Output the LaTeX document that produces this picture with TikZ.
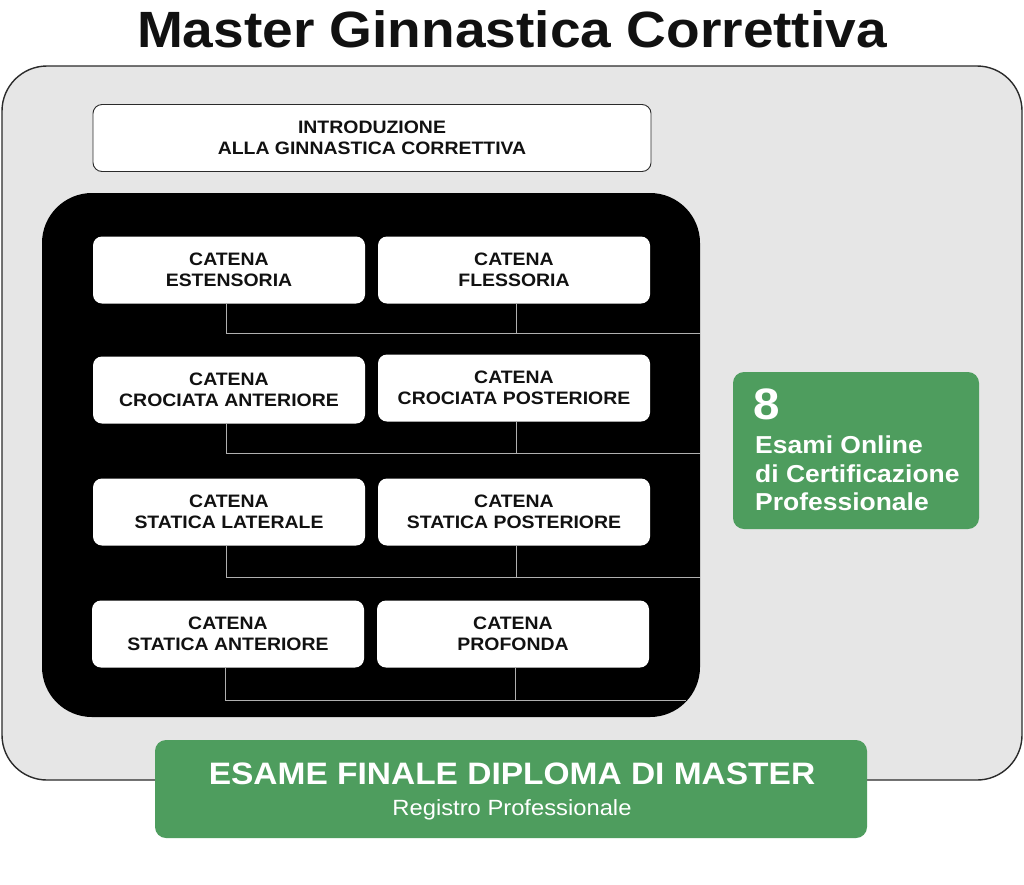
\documentclass[tikz,border=0pt]{standalone}
\usepackage{fontspec}
\setmainfont{Liberation Sans}[FakeStretch=1.08]
\usetikzlibrary{positioning,calc}
\definecolor{panel}{HTML}{E6E6E6}
\definecolor{edge}{HTML}{2B2B2B}
\definecolor{ink}{HTML}{111111}
\definecolor{leaf}{HTML}{4E9D5E}
\definecolor{wire}{HTML}{B0B0B0}
\tikzset{
  box/.style={draw=edge, fill=white, rounded corners=9pt, align=center,
              font=\fontsize{18}{21}\selectfont\bfseries, text=ink, inner sep=0pt},
  catbox/.style={box, draw=none, minimum width=272pt, minimum height=67pt},
  greenbox/.style={fill=leaf, rounded corners=11pt, text=white, inner sep=0pt},
  conn/.style={draw=wire, line width=0.9pt}
}
\begin{document}
\begin{tikzpicture}[x=1pt,y=-1pt]
  \useasboundingbox (0,0) rectangle (1024,884);
  \fill[white] (0,0) rectangle (1024,884);

  \node[font=\fontsize{51}{60}\selectfont\bfseries, text=ink] (title) at (512,29) {Master Ginnastica Correttiva};

  \draw[fill=panel, draw=edge, line width=1.4pt, rounded corners=45pt] (2,66) rectangle (1022,780);

  \node[box, line width=0.9pt, minimum width=558pt, minimum height=67pt] (intro) at (372,138)
     {INTRODUZIONE\\ALLA GINNASTICA CORRETTIVA};

  \fill[black, rounded corners=50pt] (42,193) rectangle (700,717);

  \node[catbox] (e1) at (229,270) {CATENA\\ESTENSORIA};
  \node[catbox] (f1) at (514,270) {CATENA\\FLESSORIA};
  \node[catbox] (e2) at (229,390) {CATENA\\CROCIATA ANTERIORE};
  \node[catbox] (f2) at (514,388) {CATENA\\CROCIATA POSTERIORE};
  \node[catbox] (e3) at (229,512) {CATENA\\STATICA LATERALE};
  \node[catbox] (f3) at (514,512) {CATENA\\STATICA POSTERIORE};
  \node[catbox] (e4) at (228,634) {CATENA\\STATICA ANTERIORE};
  \node[catbox] (f4) at (513,634) {CATENA\\PROFONDA};

  \coordinate (r1) at (700,333);
  \coordinate (r2) at (700,453);
  \coordinate (r3) at (700,577);
  \coordinate (r4) at (686,700);
  \foreach \i in {1,...,4}{
    \draw[conn] ([xshift=-3pt]e\i.south) |- (r\i);
    \draw[conn] ([xshift=2pt]f\i.south) -- ([xshift=2pt]f\i.south |- r\i);
  }

  \node[greenbox, minimum width=246pt, minimum height=157pt] (exams) at (856,450.5) {};
  \node[anchor=north west, text=white, font=\fontsize{44}{44}\selectfont\bfseries, inner sep=0pt]
     (eight) at (753,389) {8};
  \node[anchor=north west, text=white, align=left, inner sep=0pt,
        font=\fontsize{24.5}{28.5}\selectfont\bfseries] (examtxt) at (755,436)
     {Esami Online\\di Certificazione\\Professionale};

  \node[greenbox, minimum width=712pt, minimum height=98pt] (final) at (511,789) {};
  \node[text=white, font=\fontsize{31}{32}\selectfont\bfseries, inner sep=0pt] (finaltxt) at (512,774)
     {ESAME FINALE DIPLOMA DI MASTER};
  \node[text=white, font=\fontsize{22}{24}\selectfont, inner sep=0pt] (reg) at (512,810)
     {Registro Professionale};
\end{tikzpicture}
\end{document}
